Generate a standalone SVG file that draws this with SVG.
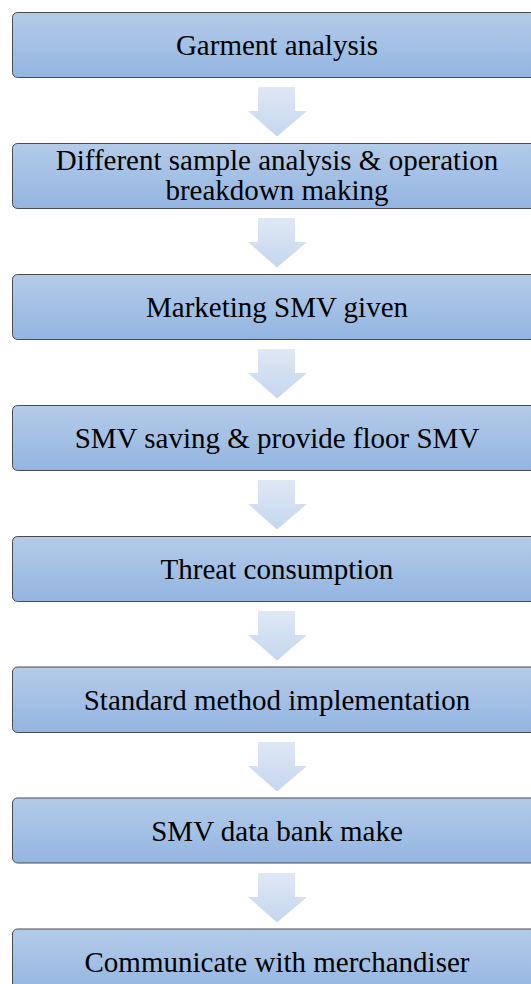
<svg xmlns="http://www.w3.org/2000/svg" width="531" height="984" viewBox="0 0 531 984">
<defs>
<linearGradient id="boxg" x1="0" y1="0" x2="0" y2="1">
<stop offset="0" stop-color="#b4cbe9"/>
<stop offset="1" stop-color="#93b5e1"/>
</linearGradient>
<linearGradient id="arrg" x1="0" y1="0" x2="0" y2="1">
<stop offset="0" stop-color="#dfe8f5"/>
<stop offset="1" stop-color="#c5d6ee"/>
</linearGradient>
<path id="arr" d="M-19,0 H18 V24 H30 L0,49.5 L-29,24 H-19 Z"/>
</defs>
<style>
.box{fill:url(#boxg);stroke:#4a4a4a;stroke-width:1}
.arrow{fill:url(#arrg)}
.t{font-size:29px;fill:#000;text-anchor:middle}
</style>
<rect width="531" height="984" fill="#fff"/>
<g id="connectors">
<use href="#arr" class="arrow" x="277" y="87"/>
<use href="#arr" class="arrow" x="277" y="218"/>
<use href="#arr" class="arrow" x="277" y="349"/>
<use href="#arr" class="arrow" x="277" y="480"/>
<use href="#arr" class="arrow" x="277" y="611"/>
<use href="#arr" class="arrow" x="277" y="742"/>
<use href="#arr" class="arrow" x="277" y="873"/>
</g>
<g font-family="'Liberation Serif', 'DejaVu Serif', serif">
<g id="n1"><rect class="box" x="12.5" y="12.5" width="540" height="65" rx="5"/><text class="t" x="277" y="55">Garment analysis</text></g>
<g id="n2"><rect class="box" x="12.5" y="143.5" width="540" height="65" rx="5"/><text class="t" x="277" y="170">Different sample analysis &amp; operation</text><text class="t" x="277" y="200">breakdown making</text></g>
<g id="n3"><rect class="box" x="12.5" y="274.5" width="540" height="65" rx="5"/><text class="t" x="277" y="317">Marketing SMV given</text></g>
<g id="n4"><rect class="box" x="12.5" y="405.5" width="540" height="65" rx="5"/><text class="t" x="277" y="448">SMV saving &amp; provide floor SMV</text></g>
<g id="n5"><rect class="box" x="12.5" y="536.5" width="540" height="65" rx="5"/><text class="t" x="277" y="579">Threat consumption</text></g>
<g id="n6"><rect class="box" x="12.5" y="667" width="540" height="65.5" rx="5"/><text class="t" x="277" y="710">Standard method implementation</text></g>
<g id="n7"><rect class="box" x="12.5" y="798" width="540" height="65" rx="5"/><text class="t" x="277" y="841">SMV data bank make</text></g>
<g id="n8"><rect class="box" x="12.5" y="929" width="540" height="65" rx="5"/><text class="t" x="277" y="972">Communicate with merchandiser</text></g>
</g>
</svg>
